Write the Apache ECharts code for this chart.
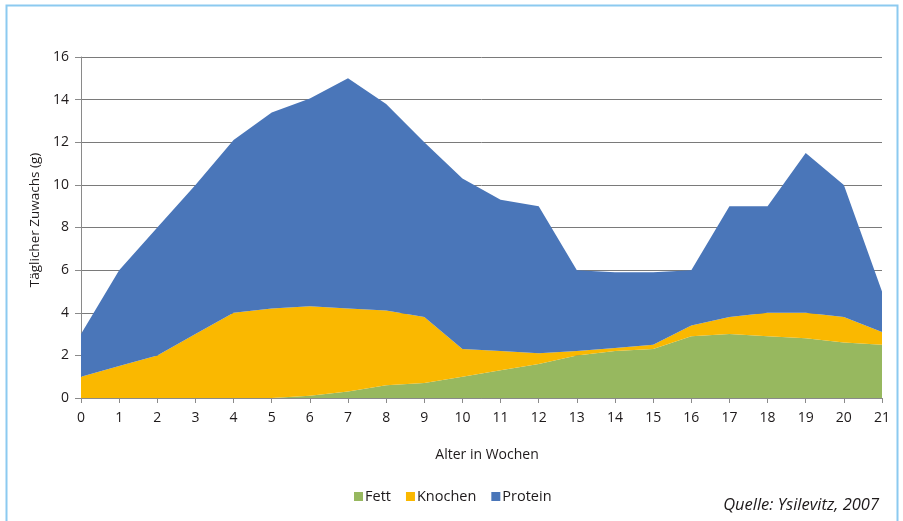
<!DOCTYPE html>
<html>
<head>
<meta charset="utf-8">
<script src="https://cdn.jsdelivr.net/npm/echarts@6/dist/echarts.min.js"></script>
<style>
  html, body { margin: 0; padding: 0; background: #ffffff; }
  #chart { width: 903px; height: 521px; }
</style>
</head>
<body>
<div id="chart"></div>
<script>
// Alter in Wochen (0..21)
const weeks = ['0','1','2','3','4','5','6','7','8','9','10','11','12','13','14','15','16','17','18','19','20','21'];

// Täglicher Zuwachs (g) je Komponente, gestapelt
const fett     = [0, 0, 0, 0, 0, 0, 0.1, 0.3, 0.6, 0.7, 1.0, 1.3, 1.6, 2.0, 2.2, 2.3, 2.9, 3.0, 2.9, 2.8, 2.6, 2.5];
const knochen  = [1.0, 1.5, 2.0, 3.0, 4.0, 4.2, 4.2, 3.9, 3.5, 3.1, 1.3, 0.9, 0.5, 0.2, 0.15, 0.2, 0.5, 0.8, 1.1, 1.2, 1.2, 0.6];
const protein  = [2.0, 4.5, 6.0, 7.0, 8.1, 9.2, 9.75, 10.8, 9.7, 8.2, 8.0, 7.1, 6.9, 3.8, 3.55, 3.4, 2.6, 5.2, 5.0, 7.5, 6.2, 1.9];

const seriesNames = ['Fett', 'Knochen', 'Protein'];
const colors = ['#97b85f', '#fab800', '#4a76b9'];

const font = '"Open Sans", "Noto Sans", sans-serif';
const textColor = '#1e1a1b';

const chart = echarts.init(document.getElementById('chart'), null, { renderer: 'canvas' });

function areaSeries(name, data, color) {
  return {
    name: name,
    type: 'line',
    stack: 'zuwachs',
    data: data,
    symbol: 'none',
    lineStyle: { width: 0 },
    areaStyle: { color: color, opacity: 1 },
    itemStyle: { color: color },
    emphasis: { disabled: true },
    silent: true
  };
}

chart.setOption({
  animation: false,
  backgroundColor: '#ffffff',
  grid: { left: 81, right: 21, top: 57, bottom: 123 },
  legend: {
    data: seriesNames,
    left: 349,
    top: 484,
    itemWidth: 9,
    itemHeight: 9,
    itemGap: 15,
    icon: 'rect',
    textStyle: { fontFamily: font, fontSize: 14.5, color: textColor, padding: [0, 0, 0, -3] }
  },
  xAxis: {
    type: 'category',
    data: weeks,
    boundaryGap: false,
    axisLine: { lineStyle: { color: '#8a8a8a', width: 1 } },
    axisTick: { show: true, length: 5, lineStyle: { color: '#8a8a8a' } },
    axisLabel: { fontFamily: font, fontSize: 14, color: textColor, margin: 13 },
    splitLine: { show: false }
  },
  yAxis: {
    type: 'value',
    min: 0,
    max: 16,
    interval: 2,
    axisLine: { show: true, lineStyle: { color: '#8a8a8a', width: 1 } },
    axisTick: { show: true, length: 6, lineStyle: { color: '#8a8a8a' } },
    axisLabel: { fontFamily: font, fontSize: 14, color: textColor, margin: 12 },
    splitLine: { show: true, lineStyle: { color: '#7a7a7a', width: 1 } }
  },
  series: [
    areaSeries(seriesNames[0], fett, colors[0]),
    areaSeries(seriesNames[1], knochen, colors[1]),
    areaSeries(seriesNames[2], protein, colors[2])
  ],
  graphic: [
    {
      type: 'rect',
      shape: { x: 6.5, y: 5.5, width: 891, height: 530 },
      style: { fill: 'none', stroke: '#8ccaf0', lineWidth: 2 },
      silent: true
    },
    {
      type: 'text',
      x: 35, y: 220,
      rotation: Math.PI / 2,
      style: {
        text: 'Täglicher Zuwachs (g)',
        fontFamily: font, fontSize: 13.5, fill: textColor,
        align: 'center', verticalAlign: 'middle'
      }
    },
    {
      type: 'text',
      x: 487, y: 455,
      style: {
        text: 'Alter in Wochen',
        fontFamily: font, fontSize: 14, fill: textColor,
        align: 'center', verticalAlign: 'middle'
      }
    },
    {
      type: 'text',
      x: 879, y: 505,
      style: {
        text: 'Quelle: Ysilevitz, 2007',
        fontFamily: font, fontSize: 16.5, fontStyle: 'italic', fill: textColor,
        align: 'right', verticalAlign: 'middle'
      }
    }
  ]
});
</script>
</body>
</html>
